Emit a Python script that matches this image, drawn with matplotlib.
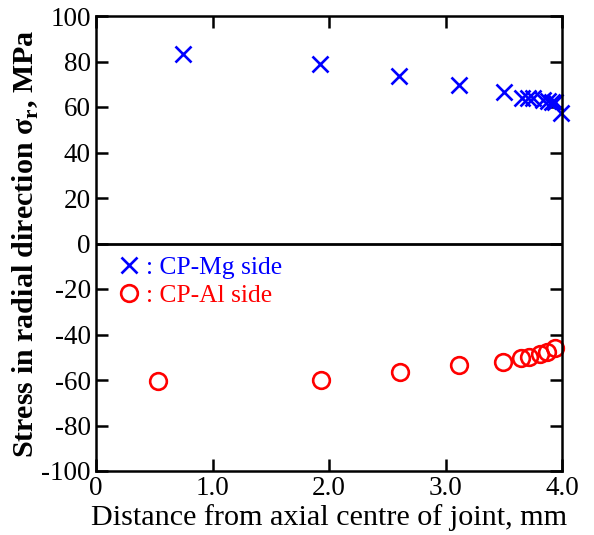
import matplotlib
matplotlib.use("Agg")
import matplotlib.pyplot as plt
from matplotlib.lines import Line2D

plt.rcParams['font.family'] = ['Liberation Serif', 'DejaVu Serif']
plt.rcParams['mathtext.fontset'] = 'custom'
plt.rcParams['mathtext.rm'] = 'Liberation Serif'
plt.rcParams['mathtext.bf'] = 'Liberation Serif:bold'
plt.rcParams['axes.unicode_minus'] = False

mg_x = [0.75, 1.92, 2.60, 3.12, 3.50, 3.66, 3.71, 3.75, 3.84, 3.88, 3.91, 3.94, 3.99]
mg_y = [83.5, 79.0, 73.5, 69.5, 66.8, 63.8, 63.8, 64.0, 63.2, 62.5, 62.3, 62.0, 57.5]
al_x = [0.53, 1.93, 2.61, 3.12, 3.49, 3.65, 3.72, 3.81, 3.87, 3.94]
al_y = [-60.4, -60.0, -56.5, -53.4, -52.1, -50.3, -49.9, -48.6, -47.7, -45.9]

xticks = [0, 1, 2, 3, 4]
xticklabels = ['0', '1.0', '2.0', '3.0', '4.0']
yticks = list(range(-100, 101, 20))

fig = plt.figure(figsize=(5.94, 5.35), dpi=100)
ax = fig.add_axes([96/594, 1-471/535, 466/594, 455/535])

ax.plot(mg_x, mg_y, linestyle='none', marker='x', color='#0000ff', ms=11.5, mew=1.9, clip_on=False)
ax.plot(al_x, al_y, linestyle='none', marker='o', mfc='none', mec='#ff0000', ms=12, mew=1.9, clip_on=False)
ax.axhline(0, color='black', lw=2)

ax.set_xlim(0, 4)
ax.set_ylim(-100, 100)
ax.set_xticks(xticks)
ax.set_xticklabels(xticklabels)
ax.set_yticks(yticks)
ax.tick_params(direction='in', length=8.5, width=1.8, top=True, right=True, labelsize=19.5)
ax.tick_params(axis='y', pad=3.8)
ax.tick_params(axis='x', pad=3.5)
for s in ax.spines.values():
    s.set_linewidth(1.8)

ax.set_xlabel('Distance from axial centre of joint, mm', fontsize=21.7, labelpad=2.5)
ax.set_ylabel('Stress in radial direction σ$_\\mathbf{r}$, MPa', fontsize=21.6, fontweight='bold', labelpad=0)

handles = [Line2D([], [], linestyle='none', marker='x', color='#0000ff', ms=11.5, mew=1.9),
           Line2D([], [], linestyle='none', marker='o', mfc='none', mec='#ff0000', ms=12, mew=1.9)]
leg = ax.legend(handles, [': CP-Mg side', ': CP-Al side'], loc='upper left',
                bbox_to_anchor=(0.049, 0.472), frameon=False, fontsize=18.4,
                handlelength=0.8, handletextpad=0.27, labelspacing=0.2, borderpad=0,
                borderaxespad=0)
for t, c in zip(leg.get_texts(), ['#0000ff', '#ff0000']):
    t.set_color(c)

fig.savefig('out.png', dpi=100)
